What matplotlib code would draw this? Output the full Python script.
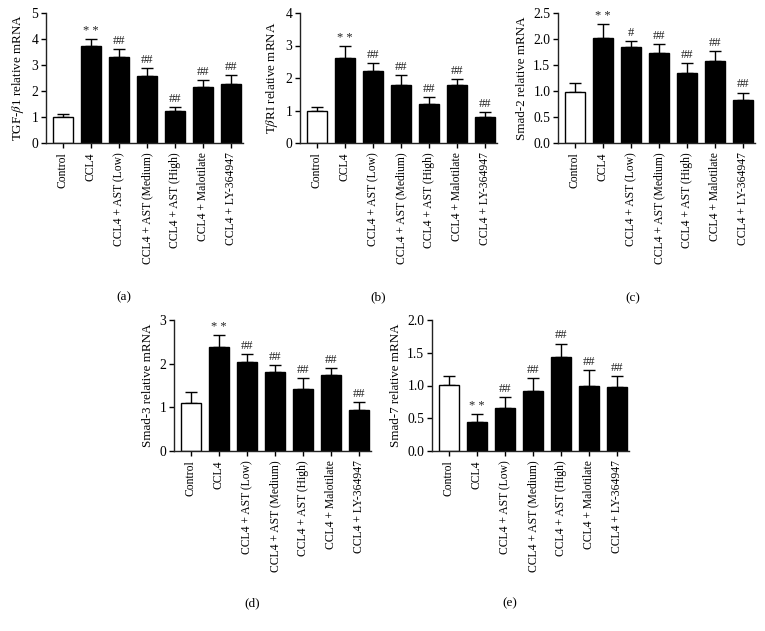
import numpy as np
import matplotlib
matplotlib.use("Agg")
import matplotlib.pyplot as plt

plt.rcParams['font.family'] = ['Liberation Serif', 'DejaVu Serif']
plt.rcParams['mathtext.fontset'] = 'stix'

groups = ["Control", "CCL4", "CCL4 + AST (Low)", "CCL4 + AST (Medium)",
          "CCL4 + AST (High)", "CCL4 + Malotilate", "CCL4 + LY-364947"]

tgf_mean = [1.0, 3.74, 3.29, 2.58, 1.25, 2.14, 2.28]
tgf_err = [0.11, 0.26, 0.31, 0.32, 0.15, 0.27, 0.32]
tgf_marks = ["", "* *", "##", "##", "##", "##", "##"]

tbr_mean = [1.0, 2.61, 2.22, 1.79, 1.21, 1.79, 0.80]
tbr_err = [0.10, 0.36, 0.25, 0.29, 0.20, 0.19, 0.15]
tbr_marks = ["", "* *", "##", "##", "##", "##", "##"]

smad2_mean = [0.99, 2.02, 1.85, 1.73, 1.34, 1.58, 0.82]
smad2_err = [0.17, 0.27, 0.11, 0.18, 0.20, 0.19, 0.15]
smad2_marks = ["", "* *", "#", "##", "##", "##", "##"]

smad3_mean = [1.11, 2.38, 2.03, 1.82, 1.41, 1.74, 0.95]
smad3_err = [0.24, 0.27, 0.19, 0.14, 0.26, 0.17, 0.18]
smad3_marks = ["", "* *", "##", "##", "##", "##", "##"]

smad7_mean = [1.01, 0.44, 0.66, 0.91, 1.43, 1.00, 0.98]
smad7_err = [0.14, 0.12, 0.17, 0.21, 0.21, 0.23, 0.16]
smad7_marks = ["", "* *", "##", "##", "##", "##", "##"]

W, H = 765, 631

def rect(x0, y0, w, y1):
    return [x0 / W, 1 - y1 / H, w / W, (y1 - y0) / H]

def panel(fig, pos, means, errs, marks, ylabel, ymax, yticks, fmt, letter, letter_xy):
    ax = fig.add_axes(rect(*pos))
    x = np.arange(len(groups))
    colors = ['white'] + ['black'] * (len(groups) - 1)
    ax.bar(x, means, width=0.7, color=colors, edgecolor='black', linewidth=1.0, zorder=2)
    ax.errorbar(x, means, yerr=[np.zeros(len(errs)), errs], fmt='none',
                ecolor='black', elinewidth=1.0, capsize=4, capthick=1.0, zorder=1)
    for xi, m, e, s in zip(x, means, errs, marks):
        if s:
            ax.annotate(s, (xi, m + e), xytext=(0, 1.5), textcoords='offset points',
                        ha='center', va='bottom', fontsize=9, color='#222222')
    ax.set_xlim(-0.6, 6.43)
    ax.set_ylim(0, ymax)
    ax.set_yticks(yticks)
    ax.set_yticklabels([fmt.format(t) for t in yticks])
    ax.set_xticks(x)
    ax.set_xticklabels(groups, rotation=90, fontsize=8.4)
    ax.set_ylabel(ylabel, fontsize=9.4, labelpad=4)
    ax.spines['top'].set_visible(False)
    ax.spines['right'].set_visible(False)
    for sp in ['left', 'bottom']:
        ax.spines[sp].set_linewidth(1.0)
        ax.spines[sp].set_color('#222222')
    ax.tick_params(axis='y', direction='out', length=3.5, width=1.0, labelsize=9.8, pad=2)
    ax.tick_params(axis='x', direction='out', length=3.5, width=1.0, pad=3)
    fig.text(letter_xy[0] / W, 1 - letter_xy[1] / H, letter, ha='center', va='center', fontsize=9.5)
    return ax

fig = plt.figure(figsize=(7.65, 6.31), dpi=100)

panel(fig, (46, 13, 197, 143), tgf_mean, tgf_err, tgf_marks,
      r"TGF-$\beta$1 relative mRNA", 5, [0, 1, 2, 3, 4, 5], "{:.0f}", "(a)", (124, 297))
panel(fig, (300, 13, 197, 143), tbr_mean, tbr_err, tbr_marks,
      r"T$\beta$RI relative mRNA", 4, [0, 1, 2, 3, 4], "{:.0f}", "(b)", (378, 297))
panel(fig, (558, 13, 197, 143), smad2_mean, smad2_err, smad2_marks,
      "Smad-2 relative mRNA", 2.5, [0, 0.5, 1.0, 1.5, 2.0, 2.5], "{:.1f}", "(c)", (633, 298))
panel(fig, (174, 320, 197, 451), smad3_mean, smad3_err, smad3_marks,
      "Smad-3 relative mRNA", 3, [0, 1, 2, 3], "{:.0f}", "(d)", (252, 603))
panel(fig, (432, 320, 197, 451), smad7_mean, smad7_err, smad7_marks,
      "Smad-7 relative mRNA", 2.0, [0, 0.5, 1.0, 1.5, 2.0], "{:.1f}", "(e)", (510, 603))

fig.savefig("out.png", dpi=100)
